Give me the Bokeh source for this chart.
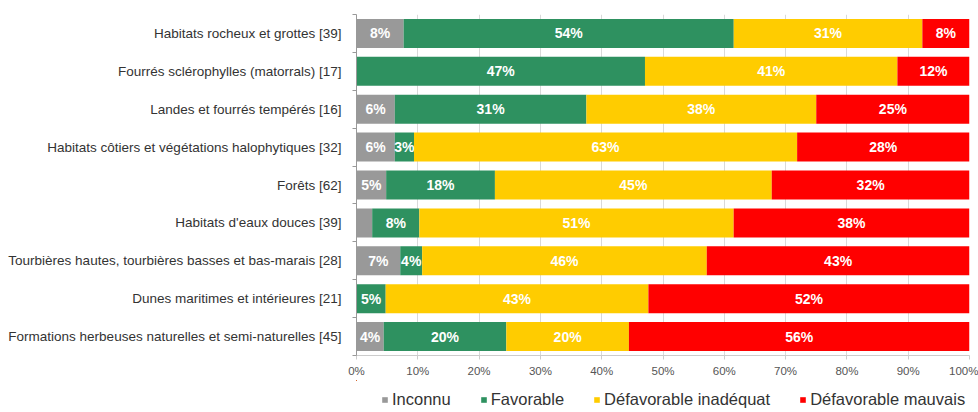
from bokeh.plotting import figure
from bokeh.layouts import column
from bokeh.models import (Range1d, FixedTicker, NumeralTickFormatter, Legend, LegendItem,
                          ColumnDataSource)
from bokeh.core.properties import value
from bokeh.embed import file_html
from bokeh.resources import INLINE
import math

categories = [
    "Habitats rocheux et grottes [39]",
    "Fourrés sclérophylles (matorrals) [17]",
    "Landes et fourrés tempérés [16]",
    "Habitats côtiers et végétations halophytiques [32]",
    "Forêts [62]",
    "Habitats d'eaux douces [39]",
    "Tourbières hautes, tourbières basses et bas-marais [28]",
    "Dunes maritimes et intérieures [21]",
    "Formations herbeuses naturelles et semi-naturelles [45]",
]
inconnu = [7.69, 0.0, 6.25, 6.25, 4.84, 2.56, 7.14, 0.0, 4.44]
favorable = [53.85, 47.06, 31.25, 3.13, 17.74, 7.69, 3.57, 4.76, 20.00]
inadequat = [30.77, 41.18, 37.50, 62.50, 45.16, 51.28, 46.43, 42.86, 20.00]
mauvais = [7.69, 11.76, 25.00, 28.12, 32.26, 38.46, 42.86, 52.38, 55.56]

series_names = ["Inconnu", "Favorable", "Défavorable inadéquat", "Défavorable mauvais"]
series_keys = ["inconnu", "favorable", "inadequat", "mauvais"]
colors = ["#999999", "#2e9160", "#ffcc00", "#ff0000"]
x_ticks = [i / 10 for i in range(11)]

FONT = "Liberation Sans"
n = len(categories)
ypos = [n - 1 - i for i in range(n)]

data = {"y": ypos}
for k, vals in zip(series_keys, [inconnu, favorable, inadequat, mauvais]):
    data[k] = [v / 100 for v in vals]
source = ColumnDataSource(data)

p = figure(width=978, height=380, x_range=Range1d(0, 1), y_range=Range1d(-0.5, n - 0.5),
           output_backend="svg", toolbar_location=None,
           min_border_left=356, min_border_right=9, min_border_top=14, min_border_bottom=25)
p.outline_line_color = None
p.background_fill_color = "white"

renderers = p.hbar_stack(series_keys, y="y", height=0.765, color=colors, source=source,
                         line_color=None)

# in-bar labels
lx, ly, lt = [], [], []
for i in range(n):
    left = 0.0
    for vals in [inconnu, favorable, inadequat, mauvais]:
        v = vals[i]
        if v >= 3:
            lx.append((left + v / 2) / 100)
            ly.append(ypos[i])
            lt.append("%d%%" % math.floor(v + 0.5))
        left += v
p.text(x=lx, y=ly, text=lt, text_color="white", text_font=value(FONT),
       text_font_size="14px", text_font_style="bold", text_align="center",
       text_baseline="middle")

# axes
p.xaxis.ticker = FixedTicker(ticks=x_ticks)
p.xaxis.formatter = NumeralTickFormatter(format="0%")
p.xaxis.axis_line_color = "#cccccc"
p.xaxis.major_tick_line_color = "#cccccc"
p.xaxis.major_tick_out = 4
p.xaxis.major_tick_in = 0
p.xaxis.minor_tick_line_color = None
p.xaxis.major_label_standoff = 5
p.xaxis.major_label_text_font = FONT
p.xaxis.major_label_text_font_size = "11.5px"
p.xaxis.major_label_text_color = "#555555"

p.yaxis.ticker = FixedTicker(ticks=ypos, minor_ticks=[i - 0.5 for i in range(n + 1)])
p.yaxis.major_label_overrides = {y: c for y, c in zip(ypos, categories)}
p.yaxis.axis_line_color = "#999999"
p.yaxis.major_tick_line_color = None
p.yaxis.major_tick_out = 0
p.yaxis.major_tick_in = 0
p.yaxis.minor_tick_line_color = "#999999"
p.yaxis.minor_tick_out = 4
p.yaxis.minor_tick_in = 0
p.yaxis.major_label_standoff = 11
p.yaxis.major_label_text_font = FONT
p.yaxis.major_label_text_font_size = "13.5px"
p.yaxis.major_label_text_color = "#333333"

p.xgrid.ticker = FixedTicker(ticks=x_ticks)
p.xgrid.grid_line_color = "#d9d9d9"
p.ygrid.grid_line_color = None

# legend strip (same series, drawn far outside its visible ranges; only the legend shows)
p2 = figure(width=978, height=32, x_range=Range1d(100, 101), y_range=Range1d(-100, -99),
            output_backend="svg", toolbar_location=None, x_axis_type=None, y_axis_type=None,
            min_border=0)
p2.outline_line_color = None
p2.grid.grid_line_color = None
legend_renderers = p2.hbar_stack(series_keys, y="y", height=0.765, color=colors,
                                 source=source, line_color=None)
legend = Legend(items=[LegendItem(label=nm, renderers=[r])
                       for nm, r in zip(series_names, legend_renderers)],
                orientation="horizontal", location=(25, 3),
                label_text_font=FONT, label_text_font_size="16.5px", label_text_color="#333333",
                glyph_width=7, glyph_height=7, label_standoff=4, spacing=29,
                padding=0, margin=0, border_line_color=None, background_fill_alpha=0,
                label_height=20)
p2.add_layout(legend, "center")

open("out.html", "w").write(file_html(column(p, p2, spacing=0), INLINE))
